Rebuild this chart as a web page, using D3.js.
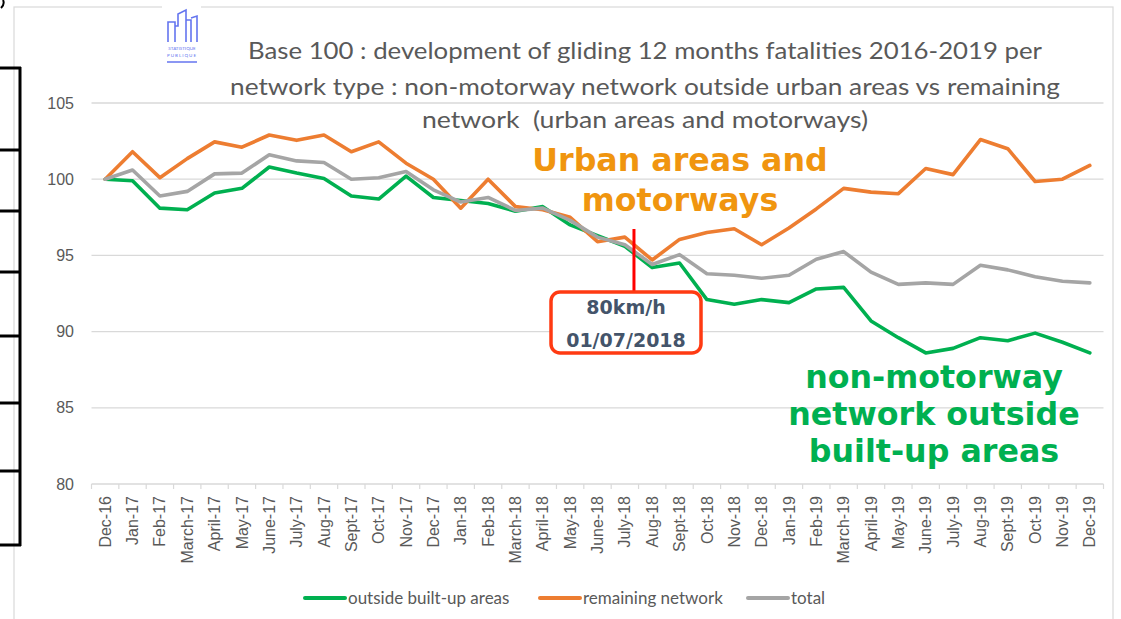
<!DOCTYPE html>
<head>
  <meta charset="utf-8">
  <script src="https://d3js.org/d3.v7.min.js"></script>
  <style>
    body { margin: 0; background: #fff; font-family: Lato, "Open Sans", sans-serif; }
    text { fill: #595959; }
    .grid line { stroke: #d9d9d9; stroke-width: 1.3; }
    .x.axis text { font-size: 16px; }
    .y.axis text { font-size: 16px; }
    .note { font-family: "DejaVu Sans", Verdana, sans-serif; font-weight: bold; text-anchor: middle; }
  </style>
</head>
<body>
<script>
  var width = 1121, height = 619;

  var months = ["Dec-16", "Jan-17", "Feb-17", "March-17", "April-17", "May-17", "June-17", "July-17",
                "Aug-17", "Sept-17", "Oct-17", "Nov-17", "Dec-17", "Jan-18", "Feb-18", "March-18",
                "April-18", "May-18", "June-18", "July-18", "Aug-18", "Sept-18", "Oct-18", "Nov-18",
                "Dec-18", "Jan-19", "Feb-19", "March-19", "April-19", "May-19", "June-19", "July-19",
                "Aug-19", "Sept-19", "Oct-19", "Nov-19", "Dec-19"];

  var outsideBuiltUp = [100, 99.9, 98.1, 98.0, 99.1, 99.4, 100.8, 100.4, 100.05, 98.9, 98.7, 100.2,
                        98.8, 98.6, 98.4, 97.9, 98.2, 97.0, 96.3, 95.6, 94.2, 94.5, 92.1, 91.8,
                        92.1, 91.9, 92.8, 92.9, 90.7, 89.6, 88.6, 88.9, 89.6, 89.4, 89.9, 89.3, 88.6];

  var remainingNetwork = [100, 101.8, 100.1, 101.35, 102.45, 102.1, 102.9, 102.55, 102.9, 101.8, 102.45, 101.05,
                          100.0, 98.1, 100.0, 98.2, 98.0, 97.5, 95.9, 96.2, 94.7, 96.05, 96.5, 96.75,
                          95.7, 96.8, 98.05, 99.4, 99.15, 99.05, 100.7, 100.3, 102.6, 102.0, 99.85, 100.0, 100.9];

  var total = [100, 100.6, 98.9, 99.2, 100.35, 100.4, 101.6, 101.2, 101.1, 100.0, 100.1, 100.5,
               99.3, 98.5, 98.8, 97.95, 98.1, 97.3, 96.2, 95.7, 94.4, 95.05, 93.8, 93.7,
               93.5, 93.7, 94.75, 95.25, 93.9, 93.1, 93.2, 93.1, 94.35, 94.05, 93.6, 93.3, 93.2];

  var yTicks = [80, 85, 90, 95, 100, 105];

  var titleLines = ["Base 100 : development of gliding 12 months fatalities 2016-2019 per",
                    "network type : non-motorway network outside urban areas vs remaining",
                    "network  (urban areas and motorways)"];

  var series = [
    {name: "outside built-up areas", values: outsideBuiltUp, color: "#00b050"},
    {name: "remaining network", values: remainingNetwork, color: "#ed7d31"},
    {name: "total", values: total, color: "#a5a5a5"}
  ];

  var svg = d3.select("body").append("svg")
      .attr("width", width)
      .attr("height", height);

  // chart frame
  svg.append("rect")
      .attr("x", 14).attr("y", 7)
      .attr("width", 1099).attr("height", 640)
      .attr("fill", "none").attr("stroke", "#d9d9d9").attr("stroke-width", 1.2);

  var x = d3.scaleBand().domain(months).range([91.5, 1103.5]).padding(0);
  var y = d3.scaleLinear().domain([80, 105]).range([484, 103]);
  var xc = d => x(d) + x.bandwidth() / 2;

  // gridlines
  svg.append("g").attr("class", "grid")
    .selectAll("line")
    .data(yTicks.filter(d => d > 80))
    .enter().append("line")
      .attr("x1", 91.5).attr("x2", 1103.5)
      .attr("y1", d => y(d)).attr("y2", d => y(d));

  // y axis
  var yAxis = d3.axisLeft(y).tickValues(yTicks).tickSize(0).tickPadding(17.5);
  svg.append("g")
      .attr("class", "y axis")
      .attr("transform", "translate(91.5,0)")
      .call(yAxis)
      .call(g => g.select(".domain").remove());

  // x axis
  var xAxis = d3.axisBottom(x).tickSize(0).tickPadding(0);
  var gx = svg.append("g")
      .attr("class", "x axis")
      .attr("transform", "translate(0," + y(80) + ")")
      .call(xAxis);
  gx.select(".domain").remove();
  gx.selectAll("text")
      .attr("transform", "rotate(-90)")
      .attr("x", -12).attr("y", 0)
      .attr("dy", "0.35em")
      .style("text-anchor", "end");
  gx.append("line")
      .attr("x1", 91.5).attr("x2", 1103.5)
      .attr("stroke", "#d9d9d9").attr("stroke-width", 1.3);
  gx.selectAll(".edge")
      .data(months.map(m => x(m)).concat([x.range()[1]]))
      .enter().append("line")
      .attr("class", "edge")
      .attr("x1", d => d).attr("x2", d => d)
      .attr("y1", 0).attr("y2", 5)
      .attr("stroke", "#d9d9d9").attr("stroke-width", 1.2);

  // title
  var titleWidths = [794, 830, 446];
  svg.append("g").selectAll("text")
    .data(titleLines)
    .enter().append("text")
      .attr("x", 645)
      .attr("y", (d, i) => [59, 95, 128][i])
      .attr("text-anchor", "middle")
      .attr("textLength", (d, i) => titleWidths[i])
      .attr("lengthAdjust", "spacingAndGlyphs")
      .style("font-size", "24px")
      .style("white-space", "pre")
      .text(d => d);

  // lines
  var line = d3.line()
      .x((d, i) => xc(months[i]))
      .y(d => y(d));

  svg.selectAll(".series")
    .data(series)
    .enter().append("path")
      .attr("class", "series")
      .attr("d", d => line(d.values))
      .attr("fill", "none")
      .attr("stroke", d => d.color)
      .attr("stroke-width", 3.6)
      .attr("stroke-linejoin", "round")
      .attr("stroke-linecap", "round");

  // legend
  var legendX = [305, 540, 748];
  var legend = svg.selectAll(".legend")
    .data(series)
    .enter().append("g")
      .attr("class", "legend")
      .attr("transform", (d, i) => "translate(" + legendX[i] + ",598)");
  legend.append("line")
      .attr("x1", 0).attr("x2", 40)
      .attr("stroke", d => d.color)
      .attr("stroke-width", 4)
      .attr("stroke-linecap", "round");
  legend.append("text")
      .attr("x", 43).attr("dy", "0.35em")
      .style("font-size", "17px")
      .text(d => d.name);

  // annotations
  svg.append("text").attr("class", "note")
      .attr("x", 680).attr("y", 171)
      .style("font-size", "31.7px").style("fill", "#f0950f")
      .text("Urban areas and");
  svg.append("text").attr("class", "note")
      .attr("x", 680).attr("y", 211)
      .style("font-size", "31.7px").style("fill", "#f0950f")
      .text("motorways");

  var greenNote = ["non-motorway", "network outside", "built-up areas"];
  svg.selectAll(".gnote")
    .data(greenNote)
    .enter().append("text")
      .attr("class", "note gnote")
      .attr("x", 934)
      .attr("y", (d, i) => 388 + i * 37)
      .style("font-size", "31.7px").style("fill", "#00b050")
      .text(d => d);

  // 80 km/h marker
  var markX = xc("July-18") + x.bandwidth() / 3;
  svg.append("line")
      .attr("x1", markX).attr("x2", markX)
      .attr("y1", 229).attr("y2", 294)
      .attr("stroke", "#ff0000").attr("stroke-width", 3);
  svg.append("rect")
      .attr("x", 551).attr("y", 292)
      .attr("width", 150).attr("height", 61)
      .attr("rx", 9)
      .attr("fill", "#fff")
      .attr("stroke", "#ff3a12").attr("stroke-width", 3.5);
  svg.append("text").attr("class", "note")
      .attr("x", 626).attr("y", 314)
      .style("font-size", "19px").style("fill", "#44546a")
      .text("80km/h");
  svg.append("text").attr("class", "note")
      .attr("x", 626).attr("y", 347)
      .style("font-size", "19px").style("fill", "#44546a")
      .text("01/07/2018");

  // logo
  var logo = svg.append("g");
  logo.append("rect")
      .attr("x", 162).attr("y", 0).attr("width", 39).attr("height", 68)
      .attr("fill", "#fff");
  logo.append("path")
      .attr("d", "M168,42 V22 H175 V42 M175,26 H178 V14 L186,10 V42 M186,20 H191 V42 M191,18 L197,16 V42")
      .attr("fill", "none").attr("stroke", "#6475ef").attr("stroke-width", 1.6);
  logo.append("text")
      .attr("x", 182).attr("y", 50).attr("text-anchor", "middle")
      .style("font-size", "4.5px").style("fill", "#6475ef")
      .text("STATISTIQUE");
  logo.append("text")
      .attr("x", 182).attr("y", 57).attr("text-anchor", "middle")
      .style("font-size", "4.5px").style("fill", "#6475ef").style("letter-spacing", "1px")
      .text("PUBLIQUE");
  logo.append("line")
      .attr("x1", 167).attr("x2", 197).attr("y1", 62).attr("y2", 62)
      .attr("stroke", "#6475ef").attr("stroke-width", 1.5);

  // black table edge on the left
  var rowEdges = [68, 150, 211, 272, 336, 403, 471, 545];
  var edge = svg.append("g").attr("stroke", "#000").attr("stroke-width", 3);
  edge.append("line").attr("x1", 20).attr("x2", 20).attr("y1", 67).attr("y2", 546);
  edge.selectAll(".row")
    .data(rowEdges)
    .enter().append("line")
      .attr("x1", 0).attr("x2", 21)
      .attr("y1", d => d).attr("y2", d => d);
  svg.append("path")
      .attr("d", "M3,0 Q5,4 1,8")
      .attr("fill", "none").attr("stroke", "#000").attr("stroke-width", 2);
</script>
</body>
